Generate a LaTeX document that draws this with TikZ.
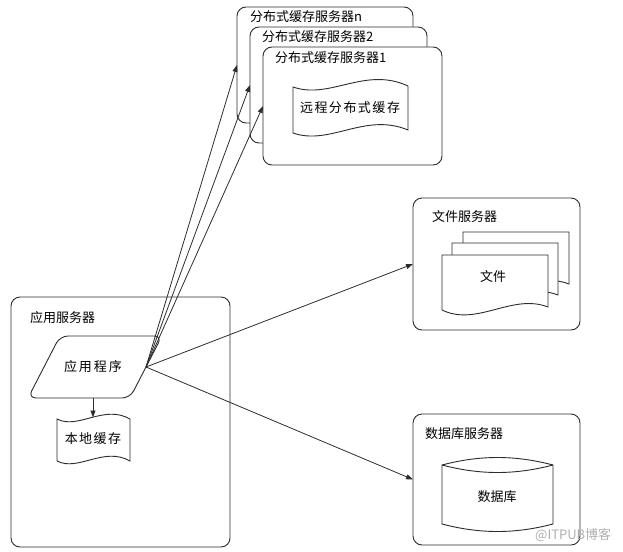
\documentclass[tikz,border=0pt]{standalone}
\usepackage{fontspec}
\newfontfamily\cjkf{Noto Sans CJK SC}
\usetikzlibrary{arrows.meta}
\definecolor{linec}{RGB}{45,45,45}
\definecolor{wmark}{RGB}{175,175,175}
\begin{document}
\begin{tikzpicture}[x=1pt,y=-1pt,
  srv/.style={draw=linec, fill=white, rounded corners=9pt, line width=0.9pt, inner sep=0pt, outer sep=0pt, anchor=north west},
  shp/.style={draw=linec, fill=white, line width=0.9pt},
  ttl/.style={font=\cjkf\fontsize{13}{15}\selectfont, inner sep=0pt, anchor=west, text=black},
  txt/.style={font=\cjkf\fontsize{13}{15}\selectfont, inner sep=0pt, text=black},
  arr/.style={draw=linec, line width=0.8pt, -{Triangle[length=7pt,width=5pt]}},
  docshape/.pic={\draw[shp] (0,0) -- (106,0) -- (106,52) .. controls (70,38) and (35,72) .. (0,55) -- cycle;}
]
\useasboundingbox (0,0) rectangle (623,551);

% distributed cache servers
\node[srv, minimum width=176pt, minimum height=116pt] (dn) at (237,7) {};
\node[ttl] (tdn) at (250,17) {分布式缓存服务器n};
\node[srv, minimum width=177pt, minimum height=116pt] (d2) at (250,27) {};
\node[ttl] (td2) at (262,37) {分布式缓存服务器2};
\node[srv, minimum width=179pt, minimum height=118pt] (d1) at (263,47) {};
\node[ttl] (td1) at (275,58) {分布式缓存服务器1};
\draw[shp] (293,87) .. controls (330,100) and (365,66) .. (408,86) -- (408,130)
  .. controls (365,112) and (330,146) .. (293,133) -- cycle;
\node[txt] (rc) at (350,108) {远\kern1.5pt 程\kern1.5pt 分\kern1.5pt 布\kern1.5pt 式\kern1.5pt 缓\kern1.5pt 存};

% file server
\node[srv, minimum width=167pt, minimum height=132pt] (fs) at (413,198) {};
\node[ttl] (tfs) at (432,217) {文件服务器};
\pic at (463,232) {docshape};
\pic at (452,243) {docshape};
\pic at (442,255) {docshape};
\node[txt] (file) at (493,277) {文件};

% database server
\node[srv, minimum width=167pt, minimum height=131pt] (db) at (413,414) {};
\node[ttl] (tdb) at (425,434) {数据库服务器};
\draw[shp] (442,465) -- (442,524) .. controls (480,534) and (515,534) .. (553,524) -- (553,465)
  .. controls (515,455) and (480,455) .. (442,465) -- cycle;
\draw[shp, fill=none] (442,465) .. controls (480,475) and (515,475) .. (553,465);
\node[txt] (dbt) at (497,497) {数据库};

% application server
\node[srv, minimum width=219pt, minimum height=250pt] (as) at (11,297) {};
\node[ttl] (tas) at (30,318) {应用服务器};
\draw[shp, rounded corners=8pt] (60,336) -- (162,336) -- (130,398) -- (28,398) -- cycle;
\node[txt] (app) at (93,367) {应\kern2pt 用\kern2pt 程\kern2pt 序};
\coordinate (appR) at (146,367);
\coordinate (appB) at (93,398);
\draw[shp] (57,419) .. controls (78,430) and (104,404) .. (130,419) -- (130,461)
  .. controls (104,446) and (78,472) .. (57,461) -- cycle;
\coordinate (locT) at (93,417.5);
\node[txt] (loc) at (93,439) {本\kern1.5pt 地\kern1.5pt 缓\kern1.5pt 存};

% connectors
\draw[arr] (appB) -- (locT);
\draw[arr] (appR) -- (dn.west);
\draw[arr] (appR) -- (d2.west);
\draw[arr] (appR) -- (d1.west);
\draw[arr] (appR) -- (fs.west);
\draw[arr] (appR) -- (db.west);

% watermark
\node[font=\cjkf\fontsize{13}{15}\selectfont, text=wmark, inner sep=0pt, anchor=west] (wm) at (535,535) {@ITPUB博客};
\end{tikzpicture}
\end{document}
